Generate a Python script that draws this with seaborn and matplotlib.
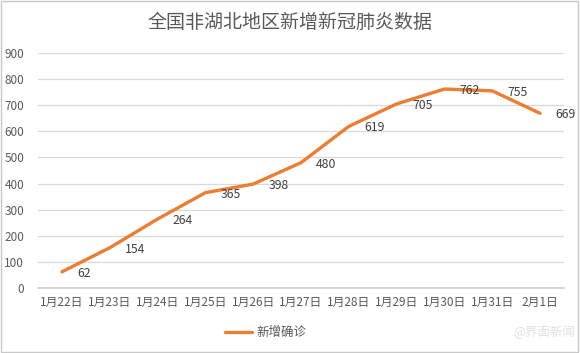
import matplotlib
matplotlib.use("Agg")
import matplotlib.pyplot as plt
import seaborn as sns
import pandas as pd
from matplotlib.patches import Rectangle

dates = ["1月22日", "1月23日", "1月24日", "1月25日", "1月26日", "1月27日",
         "1月28日", "1月29日", "1月30日", "1月31日", "2月1日"]
new_cases = [62, 154, 264, 365, 398, 480, 619, 705, 762, 755, 669]
series_name = "新增确诊"
title = "全国非湖北地区新增新冠肺炎数据"

sns.set_theme(style="white")
plt.rcParams['font.family'] = ['Noto Sans CJK SC', 'DejaVu Sans']

df = pd.DataFrame({"date": dates, "value": new_cases, "series": series_name})

fig = plt.figure(figsize=(5.8, 3.53), dpi=100)
ax = fig.add_axes([38/580, 1-288/353, (564-38)/580, (288-53)/353])

sns.lineplot(data=df, x="date", y="value", hue="series", palette=["#ED7D31"],
             sort=False, linewidth=2.4, ax=ax, legend=False)

ax.set_ylim(0, 900)
ax.set_xlim(-0.5, len(dates)-0.5)
ax.set_yticks(range(0, 901, 100))
ax.yaxis.grid(True, color="#d9d9d9", linewidth=0.9)
ax.set_axisbelow(True)
for s in ["top", "right", "left"]:
    ax.spines[s].set_visible(False)
ax.spines["bottom"].set_color("#d0d0d0")
ax.set_xlabel("")
ax.set_ylabel("")
ax.set_xticks(range(len(dates)))
ax.set_xticklabels(dates)
ax.set_xticks([i - 0.5 for i in range(len(dates)+1)], minor=True)
ax.tick_params(axis="x", which="major", length=0, labelsize=8.5, labelcolor="#595959", pad=6)
ax.tick_params(axis="x", which="minor", length=4, color="#d0d0d0", direction="out")
ax.tick_params(axis="y", length=0, labelsize=8.5, labelcolor="#595959", pad=10)

for i, v in enumerate(new_cases):
    ax.annotate(str(v), (i, v), xytext=(11, -1), textcoords="offset points",
                ha="left", va="center", fontsize=8.8, color="#404040")

fig.text(0.5, 1-22/353, title, ha="center", va="center", fontsize=13.7, color="#595959")

# legend
fig.lines.append(plt.Line2D([225/580, 252/580], [1-332/353]*2, color="#ED7D31",
                            linewidth=2.4, transform=fig.transFigure))
fig.text(256/580, 1-332/353, series_name, ha="left", va="center", fontsize=9, color="#595959")

# watermark
fig.text(575/580, 1-332/353, "@界面新闻", ha="right", va="center", fontsize=9, color="#e0e0e0")

fig.patches.append(Rectangle((0.002, 0.003), 0.995, 0.994, transform=fig.transFigure,
                             fill=False, edgecolor="#c8c8c8", linewidth=1))

fig.savefig("out.png", dpi=100)
